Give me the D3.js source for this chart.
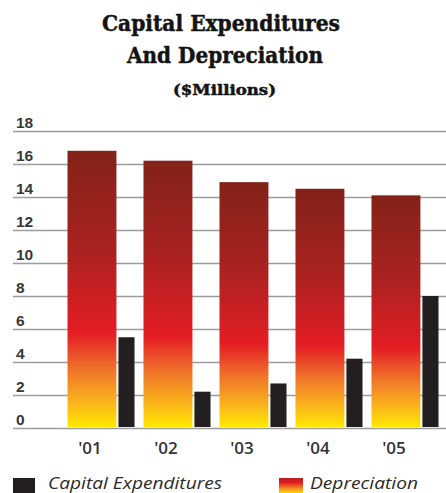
<!DOCTYPE html>
<html>
<head>
<meta charset="utf-8">
<script src="https://cdn.jsdelivr.net/npm/d3@7"></script>
<style>
  html, body { margin: 0; padding: 0; background: #fff; }
  svg { display: block; }
</style>
</head>
<body>
<svg id="chart" width="446" height="493"></svg>
<script>
// Fiscal years and values in $ millions
const years = ["'01", "'02", "'03", "'04", "'05"];
const depreciation = [16.8, 16.2, 14.9, 14.5, 14.1];
const capitalExpenditures = [5.5, 2.2, 2.7, 4.2, 8.0];
const yTicks = [0, 2, 4, 6, 8, 10, 12, 14, 16, 18];
const titleLines = ["Capital Expenditures", "And Depreciation"];
const subtitle = "($Millions)";
const legendLabels = ["Capital Expenditures", "Depreciation"];

const svg = d3.select("#chart");
const W = 446;

// Gradient used for depreciation bars: dark red top, red, orange, yellow base
const defs = svg.append("defs");
const grad = defs.append("linearGradient")
  .attr("id", "depGrad").attr("x1", 0).attr("y1", 0).attr("x2", 0).attr("y2", 1);
[[0, "#832218"], [0.35, "#a92220"], [0.66, "#e41d25"], [0.8, "#f0782a"], [0.92, "#fbb91a"], [1, "#ffe900"]]
  .forEach(([o, c]) => grad.append("stop").attr("offset", o).attr("stop-color", c));
const lgGrad = defs.append("linearGradient")
  .attr("id", "legGrad").attr("x1", 0).attr("y1", 0).attr("x2", 0).attr("y2", 1);
[[0, "#b42020"], [0.3, "#e41d25"], [0.65, "#f58a22"], [1, "#ffe900"]]
  .forEach(([o, c]) => lgGrad.append("stop").attr("offset", o).attr("stop-color", c));

// Title block
const titleFont = "'DejaVu Serif', serif";
const titleInk = "#141414";
function titleText(str, cx, cy, size, len) {
  svg.append("text").attr("x", cx).attr("y", cy)
    .attr("text-anchor", "middle").attr("font-family", titleFont).attr("font-weight", "bold")
    .attr("font-size", size).attr("fill", titleInk)
    .attr("stroke", titleInk).attr("stroke-width", 0.5)
    .attr("textLength", len).attr("lengthAdjust", "spacingAndGlyphs")
    .text(str);
}
titleText(titleLines[0], 221, 31, 22, 238);
titleText(titleLines[1], 225, 63, 22, 196);
titleText(subtitle, 224.5, 95, 15, 103);

// Scales
const y = d3.scaleLinear().domain([0, 18]).range([428, 131]);
const x = d3.scaleBand().domain(years).range([67.5, 438.5]).paddingInner(0.118).paddingOuter(0);
const depW = x.bandwidth() * 0.73;
const gap = 2;
const capW = x.bandwidth() - depW - gap;

// Horizontal gridlines with labels sitting above each line
const gridLen = W - 13;
const yAxis = svg.append("g").attr("transform", "translate(13,0)")
  .call(d3.axisRight(y).tickValues(yTicks).tickSize(gridLen).tickFormat(d3.format("d")));
yAxis.select(".domain").remove();
yAxis.selectAll(".tick line").attr("stroke", "#9c9c9c").attr("stroke-width", 1.6);
yAxis.selectAll(".tick text")
  .attr("x", 3).attr("dy", "-4").attr("text-anchor", "start")
  .attr("font-family", "'Liberation Sans', Arial, sans-serif").attr("font-weight", "bold")
  .attr("font-size", 15.5).attr("fill", "#383838")
  .style("dominant-baseline", "auto");

// Depreciation bars
svg.append("g").selectAll("rect").data(depreciation).join("rect")
  .attr("x", (d, i) => x(years[i]))
  .attr("y", d => y(d))
  .attr("width", depW)
  .attr("height", d => y(0) - 1 - y(d))
  .attr("fill", "url(#depGrad)");

// Capital expenditure bars
svg.append("g").selectAll("rect").data(capitalExpenditures).join("rect")
  .attr("x", (d, i) => x(years[i]) + depW + gap)
  .attr("y", d => y(d))
  .attr("width", capW)
  .attr("height", d => y(0) - 1 - y(d))
  .attr("fill", "#231f20");

// Year labels centred under the depreciation bars
svg.append("g").selectAll("text").data(years).join("text")
  .attr("x", d => x(d) + depW / 2 - 2)
  .attr("y", 454)
  .attr("text-anchor", "middle")
  .attr("font-family", "'Open Sans', sans-serif").attr("font-weight", 600)
  .attr("font-size", 17).attr("fill", "#333")
  .text(d => d);

// Legend
const legend = svg.append("g");
legend.append("rect").attr("x", 13).attr("y", 478).attr("width", 22).attr("height", 22).attr("fill", "#231f20");
legend.append("text").attr("x", 48).attr("y", 489)
  .attr("font-family", "'Open Sans', sans-serif").attr("font-style", "italic")
  .attr("font-size", 16).attr("fill", "#2a2a2a")
  .attr("textLength", 174).attr("lengthAdjust", "spacingAndGlyphs")
  .text(legendLabels[0]);
legend.append("rect").attr("x", 279).attr("y", 478).attr("width", 24).attr("height", 16).attr("fill", "url(#legGrad)");
legend.append("text").attr("x", 310).attr("y", 489)
  .attr("font-family", "'Open Sans', sans-serif").attr("font-style", "italic")
  .attr("font-size", 16).attr("fill", "#2a2a2a")
  .attr("textLength", 108).attr("lengthAdjust", "spacingAndGlyphs")
  .text(legendLabels[1]);
</script>
</body>
</html>
